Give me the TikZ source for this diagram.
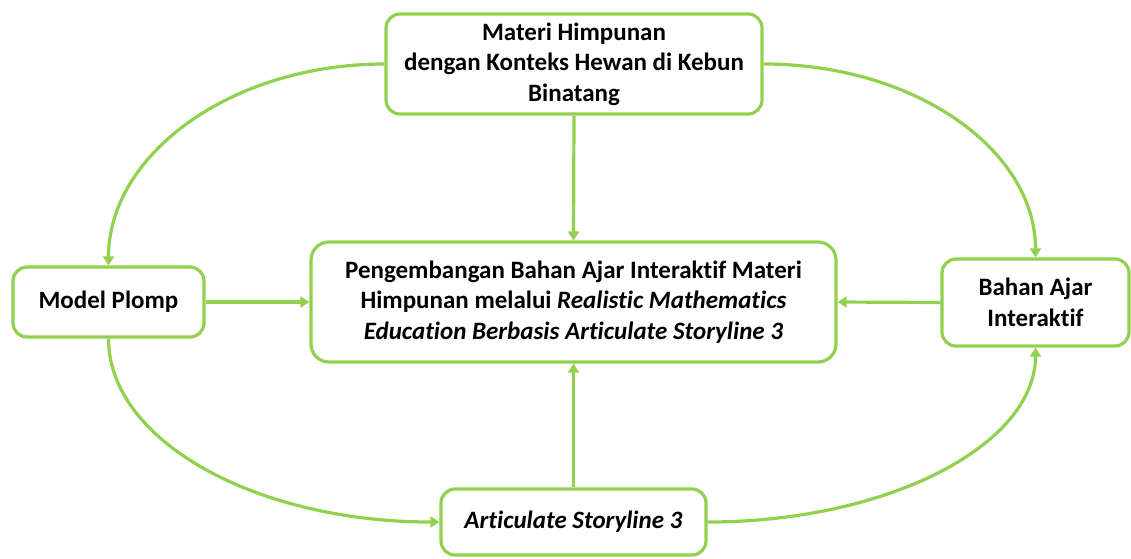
\documentclass[tikz,border=0pt]{standalone}
\usepackage{fontspec}
\setmainfont[Ligatures=NoCommon]{Carlito}
\usetikzlibrary{arrows.meta}
\definecolor{lgreen}{RGB}{146,208,80}
\tikzset{
  box/.style={draw=lgreen, line width=3.2pt, rounded corners=14pt, fill=white, align=center,
    font=\bfseries\fontsize{25}{30.5}\selectfont, inner sep=0pt},
  arr/.style={draw=lgreen, line width=3.2pt, -{Triangle[width=11pt,length=9pt]}},
}
\begin{document}
\begin{tikzpicture}[x=1pt,y=-1pt]
\useasboundingbox (0,0) rectangle (1131,558);
\node[box, minimum width=376pt, minimum height=100pt] (top) at (574,64)
  {Materi Himpunan\\dengan Konteks Hewan di Kebun\\Binatang};
\node[box, minimum width=525pt, minimum height=120pt, rounded corners=18pt] (center) at (573.5,302)
  {Pengembangan Bahan Ajar Interaktif Materi\\Himpunan melalui \textit{Realistic Mathematics}\\\textit{Education Berbasis Articulate Storyline 3}};
\node[box, minimum width=191pt, minimum height=70pt] (plomp) at (108.5,302) {Model Plomp};
\node[box, minimum width=187pt, minimum height=87pt] (bahan) at (1035.5,302.5) {Bahan Ajar\\Interaktif};
\node[box, minimum width=265pt, minimum height=66pt] (artic) at (573.5,522) {\textit{Articulate Storyline 3}};

\draw[arr] (top.south) -- (center.north);
\draw[arr] (artic.north) -- (center.south);
\draw[arr] (plomp.east) -- (center.west);
\draw[arr] (bahan.west) -- (center.east);

\draw[arr] (top.west) .. controls +(-153,0) and +(0,-111) .. (plomp.north);
\draw[arr] (top.east) .. controls +(152,0) and +(0,-107) .. (bahan.north);
\draw[arr] (plomp.south) .. controls +(0,102) and +(-184,0) .. (artic.west);
\draw[arr] (artic.east) .. controls +(181,0) and +(0,97) .. (bahan.south);
\end{tikzpicture}
\end{document}
